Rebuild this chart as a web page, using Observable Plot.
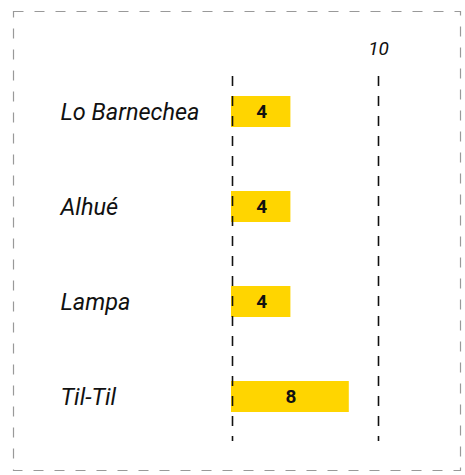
<!DOCTYPE html>
<html>
<head>
<meta charset="utf-8">
<script src="https://cdn.jsdelivr.net/npm/d3@7"></script>
<script src="https://cdn.jsdelivr.net/npm/@observablehq/plot@0.6"></script>
<style>
  html, body { margin: 0; padding: 0; background: #fff; }
  #chart svg { display: block; }
</style>
</head>
<body>
<div id="chart"></div>
<script>
const comunas = ["Lo Barnechea", "Alhué", "Lampa", "Til-Til"];
const valores = [4, 4, 4, 8];
const xTicks = [10];
const gridValues = [0, 10];

const data = comunas.map((c, i) => ({comuna: c, valor: valores[i]}));

const chart = Plot.plot({
  width: 465,
  height: 475,
  marginLeft: 232,
  marginRight: 87,
  marginTop: 76,
  marginBottom: 34,
  style: {fontFamily: "Roboto, sans-serif", background: "#fff"},
  x: {domain: [0, 10], axis: null},
  y: {domain: comunas, paddingInner: 0.675, paddingOuter: 0.249, align: 0.4, axis: null},
  marks: [
    Plot.frame({stroke: "#999", strokeWidth: 1.2, strokeDasharray: "10,11",
      insetLeft: -219, insetTop: -65, insetRight: -82, insetBottom: -29}),
    Plot.barX(data, {y: "comuna", x: "valor", fill: "#FFD500", insetLeft: -1}),
    Plot.ruleX(gridValues, {stroke: "#111", strokeWidth: 1.6, strokeDasharray: "10,10"}),
    Plot.axisX({anchor: "top", ticks: xTicks, tickSize: 0, tickPadding: 22,
      fontSize: 19, fontStyle: "italic", fill: "#111", label: null}),
    Plot.text(data, {y: "comuna", text: "comuna", frameAnchor: "left", dx: -172,
      textAnchor: "start", fontSize: 23.5, fontStyle: "italic", fill: "#111"}),
    Plot.text(data, {y: "comuna", x: d => d.valor / 2, text: d => String(d.valor),
      fontSize: 19, fontWeight: "bold", fill: "#111"})
  ]
});
document.getElementById("chart").append(chart);
</script>
</body>
</html>
